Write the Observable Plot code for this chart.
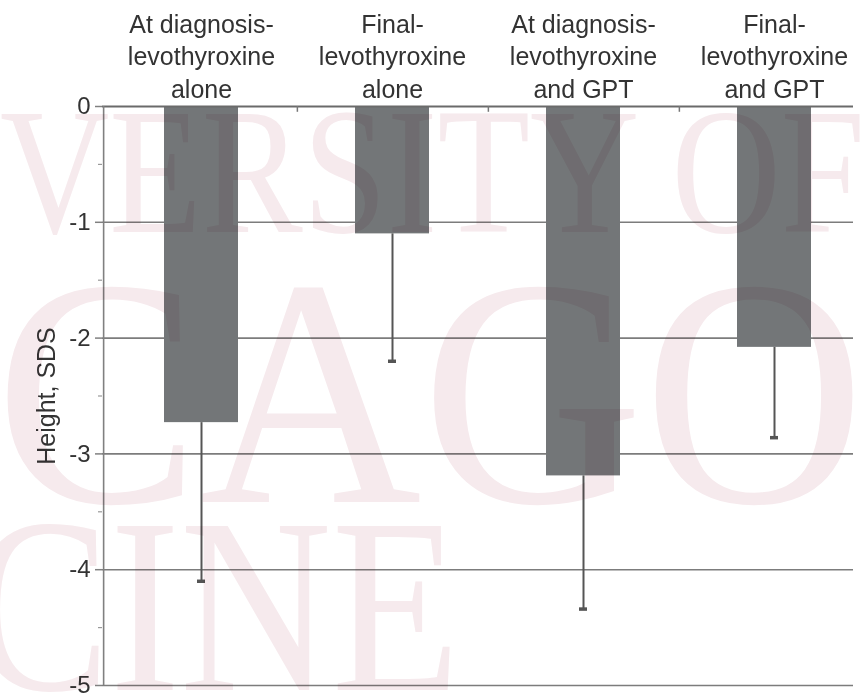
<!DOCTYPE html>
<html>
<head>
<meta charset="utf-8">
<script src="https://cdn.jsdelivr.net/npm/d3@7"></script>
<script src="https://cdn.jsdelivr.net/npm/@observablehq/plot@0.6"></script>
<style>
  html, body { margin: 0; padding: 0; background: #fff; }
  #wrap { position: relative; width: 865px; height: 700px; overflow: hidden; }
  #chart svg { display: block; background: transparent; }
  #wm { position: absolute; left: 0; top: 0; pointer-events: none; mix-blend-mode: multiply; }
</style>
</head>
<body>
<div id="wrap">
  <div id="chart"></div>
  <svg id="wm" width="865" height="700" xmlns="http://www.w3.org/2000/svg">
    <g font-family="'Liberation Serif', 'DejaVu Serif', serif" fill="#f6eaed">
      <text x="0" y="232" font-size="180" textLength="865" lengthAdjust="spacingAndGlyphs">VERSITY OF</text>
      <text x="-5" y="502" font-size="325" textLength="870" lengthAdjust="spacingAndGlyphs">CAGO</text>
      <text x="-30" y="690" font-size="250" textLength="490" lengthAdjust="spacingAndGlyphs">CINE</text>
    </g>
  </svg>
</div>
<script>
// Data
const groups = [
  "At diagnosis-\nlevothyroxine\nalone",
  "Final-\nlevothyroxine\nalone",
  "At diagnosis-\nlevothyroxine\nand GPT",
  "Final-\nlevothyroxine\nand GPT"
];
const means = [-2.73, -1.10, -3.19, -2.08];
const lowerEnds = [-4.10, -2.20, -4.34, -2.86];
const yTicks = [0, -1, -2, -3, -4, -5];
const yMinorTicks = [-0.5, -1.5, -2.5, -3.5, -4.5];
const yLabel = "Height, SDS";

const data = groups.map((g, i) => ({group: g, mean: means[i], lower: lowerEnds[i]}));

const xRange = [104, 871];
const step = (xRange[1] - xRange[0]) / groups.length;
const font = "'Liberation Sans', Arial, Helvetica, sans-serif";
const textColor = "#333";

const chart = Plot.plot({
  width: 865,
  height: 700,
  marginTop: 106,
  marginBottom: 15,
  marginLeft: 102,
  marginRight: 12,
  style: {fontFamily: font, background: "transparent", color: textColor},
  x: {type: "band", domain: groups, range: xRange, paddingInner: 0.61, paddingOuter: 0.305, axis: null},
  y: {domain: [-5, 0], axis: null},
  marks: [
    // gridlines
    Plot.ruleY(yTicks.slice(1), {stroke: "#7c7c7c", strokeWidth: 1.6}),
    // bars
    Plot.barY(data, {x: "group", y1: 0, y2: "mean", fill: "#737678"}),
    // error whiskers
    Plot.ruleX(data, {x: "group", y1: "mean", y2: "lower", stroke: "#555", strokeWidth: 2}),
    Plot.tickY(data, {x: "group", y: "lower", stroke: "#555", strokeWidth: 3.5, insetLeft: 33, insetRight: 33}),
    // top axis line at 0
    Plot.ruleY([0], {stroke: "#6a6a6a", strokeWidth: 2.2}),
    // ticks at category boundaries on the top axis
    Plot.ruleX(groups.slice(0, 3), {x: d => d, dx: step / 2, y1: 0, y2: -0.05, stroke: "#777", strokeWidth: 1.5}),
    // y axis line
    Plot.ruleX([groups[0]], {x: d => d, dx: -step / 2 - 2, y1: 0, y2: -5, stroke: "#808080", strokeWidth: 1.6}),
    // y axis ticks and labels
    Plot.axisY(yTicks, {tickFormat: d => String(d), tickSize: 7, tickPadding: 5, fontSize: 24, stroke: "#808080", strokeWidth: 1.5, label: null, color: textColor}),
    Plot.axisY(yMinorTicks, {tickFormat: () => "", tickSize: 4, stroke: "#999", strokeWidth: 1.2, label: null}),
    // y axis title
    Plot.text([yLabel], {text: d => d, frameAnchor: "left", textAnchor: "middle", rotate: -90, dx: -56, fontSize: 25, fill: textColor}),
    // category labels above
    Plot.text(groups, {x: d => d, text: d => d, frameAnchor: "top", lineAnchor: "bottom", dy: -9, fontSize: 25, lineHeight: 1.3, fill: textColor})
  ]
});
document.getElementById("chart").appendChild(chart);
</script>
</body>
</html>
